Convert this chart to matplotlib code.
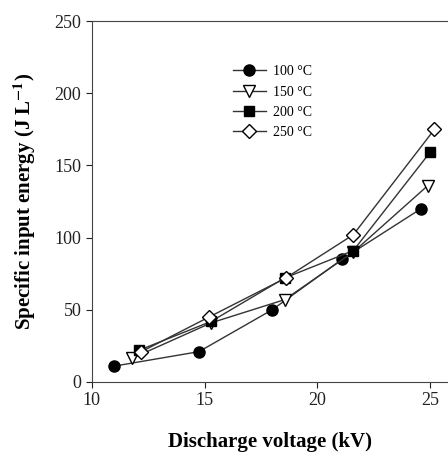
import numpy as np
import matplotlib.pyplot as plt

plt.rcParams['font.family'] = ['Liberation Serif', 'DejaVu Serif']
plt.rcParams['mathtext.fontset'] = 'stix'

# data
x100 = [11.0, 14.75, 18.0, 21.1, 24.6]
y100 = [11, 21, 50, 85, 120]
x150 = [11.8, 15.3, 18.55, 21.6, 24.9]
y150 = [16.5, 41, 57, 90, 136]
x200 = [12.1, 15.3, 18.55, 21.6, 25.0]
y200 = [22, 42, 72, 91, 159]
x250 = [12.2, 15.2, 18.6, 21.6, 25.2]
y250 = [21, 45, 72, 102, 175]
labels = ['100 °C', '150 °C', '200 °C', '250 °C']

fig = plt.figure(figsize=(4.48, 4.58), dpi=100)
ax = fig.add_axes([0.205, 0.166, 0.795, 0.788])

kw = dict(color='#333333', lw=1.0, markeredgecolor='black', markeredgewidth=1.0)
ax.plot(x100, y100, marker='o', ms=8, markerfacecolor='black', label=labels[0], **kw)
ax.plot(x150, y150, marker='v', ms=9, markerfacecolor='white', label=labels[1], **kw)
ax.plot(x200, y200, marker='s', ms=7, markerfacecolor='black', label=labels[2], **kw)
ax.plot(x250, y250, marker='D', ms=7, markerfacecolor='white', label=labels[3], **kw)

ax.set_xlim(10, 25.8)
ax.set_ylim(0, 250)
ax.set_xticks([10, 15, 20, 25])
ax.set_yticks([0, 50, 100, 150, 200, 250])
ax.tick_params(direction='out', length=4, labelsize=13, colors='#222222')
ax.spines['right'].set_visible(False)
for s in ['left', 'bottom', 'top']:
    ax.spines[s].set_color('#444444')

ax.set_xlabel('Discharge voltage (kV)', fontsize=15, fontweight='bold', labelpad=16)
ax.set_ylabel('Specific input energy (J L$^{\\mathbf{-1}}$)', fontsize=15, fontweight='bold', labelpad=12)

ax.legend(loc='upper left', bbox_to_anchor=(0.36, 0.912), frameon=False, fontsize=10,
          handlelength=2.4, labelspacing=0.52, handletextpad=0.5)

plt.savefig('out.png', dpi=100)
